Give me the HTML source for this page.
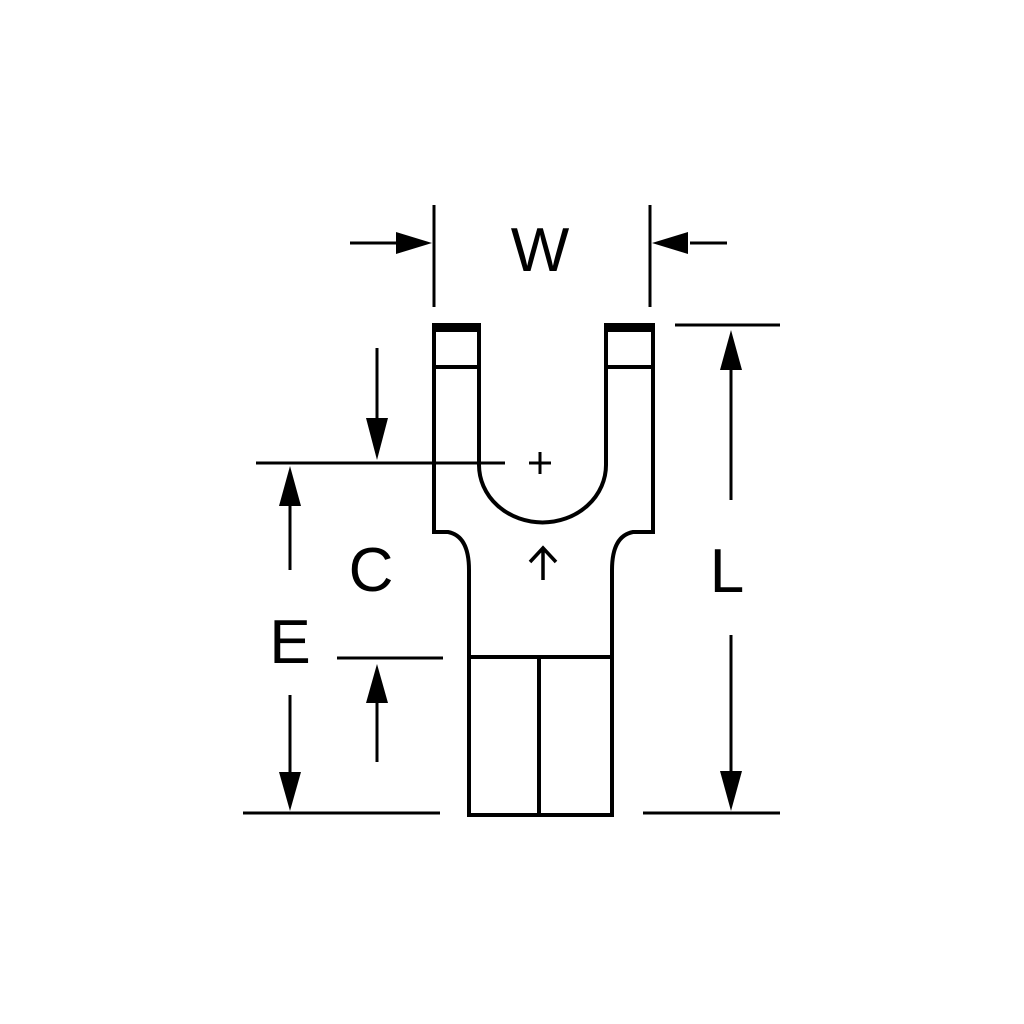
<!DOCTYPE html>
<html><head><meta charset="utf-8"><style>html,body{margin:0;padding:0;background:#fff}svg{display:block}</style></head>
<body>
<svg width="1024" height="1024" viewBox="0 0 1024 1024" xmlns="http://www.w3.org/2000/svg">
<rect width="1024" height="1024" fill="#fff"/>
<g fill="none" stroke="#000" stroke-width="4">
<!-- outline -->
<path d="M434,325 L434,532 L448,532 Q469,536 469,570 L469,815 L612,815 L612,570 Q612,536 633,532 L653,532 L653,325 L606,325 L606,465 A63,57 0 0 1 479,465 L479,325 Z"/>
<line x1="434" y1="367" x2="479" y2="367"/>
<line x1="606" y1="367" x2="653" y2="367"/>
<line x1="469" y1="657" x2="612" y2="657"/>
<line x1="539" y1="657" x2="539" y2="815"/>
<!-- plus -->
<line x1="529" y1="463" x2="551" y2="463" stroke-width="3"/>
<line x1="540" y1="452" x2="540" y2="474" stroke-width="3"/>
<!-- small up arrow -->
<path d="M543,580 L543,548 M530,562 L543,548 L556,562" stroke-width="3.5"/>
<!-- W -->
<line x1="434" y1="205" x2="434" y2="307" stroke-width="3"/>
<line x1="650" y1="205" x2="650" y2="307" stroke-width="3"/>
<line x1="350" y1="243" x2="400" y2="243" stroke-width="3"/>
<line x1="690" y1="243" x2="727" y2="243" stroke-width="3"/>
<!-- L -->
<line x1="675" y1="325" x2="780" y2="325" stroke-width="3"/>
<line x1="643" y1="813" x2="780" y2="813" stroke-width="3"/>
<line x1="731" y1="365" x2="731" y2="500" stroke-width="3"/>
<line x1="731" y1="635" x2="731" y2="775" stroke-width="3"/>
<!-- C -->
<line x1="256" y1="463" x2="505" y2="463" stroke-width="3"/>
<line x1="377" y1="348" x2="377" y2="420" stroke-width="3"/>
<line x1="337" y1="658" x2="443" y2="658" stroke-width="3"/>
<line x1="377" y1="700" x2="377" y2="762" stroke-width="3"/>
<!-- E -->
<line x1="290" y1="505" x2="290" y2="570" stroke-width="3"/>
<line x1="290" y1="695" x2="290" y2="775" stroke-width="3"/>
<line x1="243" y1="813" x2="440" y2="813" stroke-width="3"/>
</g>
<g fill="#000">
<rect x="434" y="323" width="47" height="9"/>
<rect x="604" y="323" width="51" height="9"/>
<!-- arrowheads -->
<polygon points="432,243 396,232 396,254"/>
<polygon points="652,243 688,232 688,254"/>
<polygon points="731,330 720,370 742,370"/>
<polygon points="731,811 720,771 742,771"/>
<polygon points="377,460 366,418 388,418"/>
<polygon points="377,664 366,703 388,703"/>
<polygon points="290,466 279,506 301,506"/>
<polygon points="290,811 279,772 301,772"/>
</g>
<g font-family="Liberation Sans, sans-serif" font-size="62" text-anchor="middle" fill="#000">
<text x="540" y="271">W</text>
<text x="371" y="591">C</text>
<text x="290" y="663">E</text>
<text x="727" y="592">L</text>
</g>
</svg>
</body></html>
